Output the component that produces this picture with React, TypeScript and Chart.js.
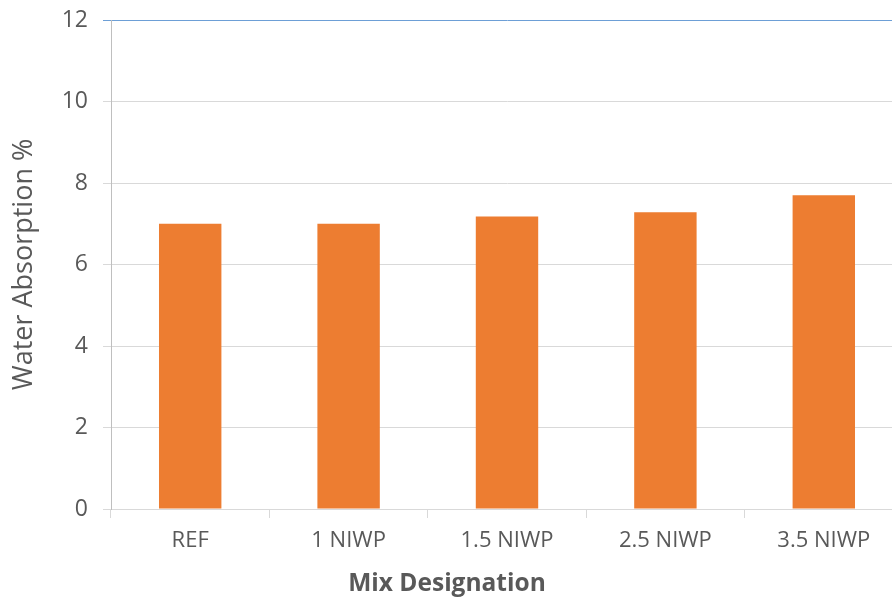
import React, { useEffect, useRef } from "react";
import { Chart, registerables } from "chart.js";
Chart.register(...registerables);

const categories = ["REF", "1 NIWP", "1.5 NIWP", "2.5 NIWP", "3.5 NIWP"];
const waterAbsorption = [7.0, 7.0, 7.18, 7.28, 7.7];
const yTicks = [0, 2, 4, 6, 8, 10, 12];
const xTitle = "Mix Designation";
const yTitle = "Water Absorption %";

const xTitlePlugin = {
  id: "xTitlePlugin",
  afterDraw(chart: any) {
    const ctx = chart.ctx;
    ctx.save();
    ctx.font = "bold 24.5px 'Open Sans'";
    ctx.fillStyle = "#595959";
    ctx.textAlign = "center";
    ctx.textBaseline = "alphabetic";
    ctx.fillText(xTitle, 447, 591);
    ctx.restore();
  },
};

export default function App() {
  const ref = useRef<HTMLCanvasElement | null>(null);
  useEffect(() => {
    if (!ref.current) return;
    const chart = new Chart(ref.current, {
      type: "bar",
      data: {
        labels: categories,
        datasets: [
          {
            data: waterAbsorption,
            backgroundColor: "#ed7d31",
            borderWidth: 0,
            categoryPercentage: 1,
            barPercentage: 0.394,
          },
        ],
      },
      plugins: [xTitlePlugin],
      options: {
        responsive: false,
        animation: false,
        devicePixelRatio: 1,
        layout: { padding: { top: 20, right: 2, left: 0, bottom: 0 } },
        plugins: { legend: { display: false }, tooltip: { enabled: false } },
        scales: {
          x: {
            grid: {
              offset: true,
              drawOnChartArea: false,
              color: "#d9d9d9",
              tickLength: 9,
            },
            border: { color: "#d9d9d9" },
            ticks: {
              color: "#595959",
              font: { family: "Open Sans", size: 22 },
              padding: 10,
            },
            afterFit: (s: any) => {
              s.height = 88;
              s.paddingLeft = 0;
              s.paddingRight = 0;
            },
          },
          y: {
            min: 0,
            max: 12,
            afterBuildTicks: (s: any) => {
              s.ticks = yTicks.map((v) => ({ value: v }));
            },
            grid: {
              color: (ctx: any) =>
                ctx.tick && ctx.tick.value === 12 ? "#6d9fd6" : "#d9d9d9",
              tickLength: 8,
            },
            border: { color: "#bfbfbf" },
            ticks: {
              color: "#595959",
              font: { family: "Open Sans", size: 23 },
              padding: 15,
            },
            title: {
              display: true,
              text: yTitle,
              color: "#595959",
              font: { family: "Open Sans", size: 27 },
              padding: { top: 8, bottom: 0 },
            },
            afterFit: (s: any) => {
              s.width = 111;
              s.paddingTop = 0;
              s.paddingBottom = 0;
            },
          },
        },
      },
    });
    return () => chart.destroy();
  }, []);
  return (
    <div
      style={{
        position: "fixed",
        left: 0,
        top: 0,
        width: 892,
        height: 597,
        overflow: "hidden",
        background: "#fff",
      }}
    >
      <canvas ref={ref} width={905} height={597} style={{ display: "block" }} />
    </div>
  );
}
